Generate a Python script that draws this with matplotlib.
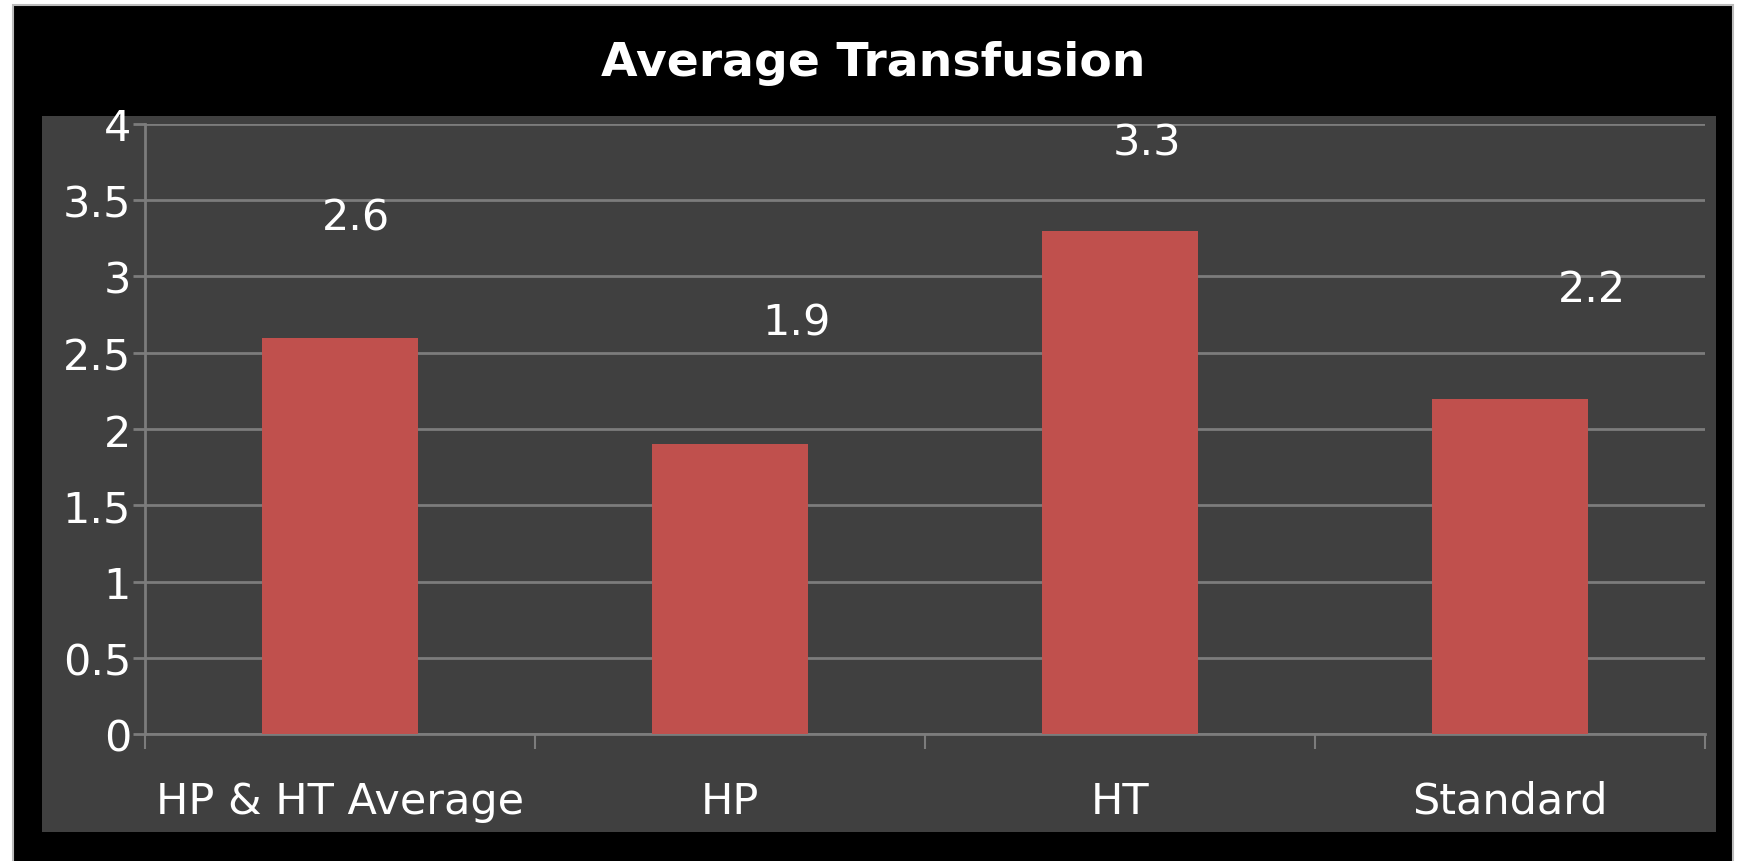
import matplotlib
matplotlib.use('Agg')
import matplotlib.pyplot as plt
from matplotlib.patches import Rectangle
import numpy as np

# chart data
categories = ['HP & HT Average', 'HP', 'HT', 'Standard']
transfusion = [2.6, 1.9, 3.3, 2.2]
valueLabels = ['2.6', '1.9', '3.3', '2.2']
yTicks = [0, 0.5, 1, 1.5, 2, 2.5, 3, 3.5, 4]
yTickLabels = ['0', '0.5', '1', '1.5', '2', '2.5', '3', '3.5', '4']

# styling
panelColor = '#404040'
barColor = '#c0504d'
gridColor = '#7c7c7c'
# where the value labels sit relative to the bar top (x in category units, y in data units)
labelDx = [0.04, 0.17, 0.07, 0.21]
labelDy = [0.79, 0.80, 0.58, 0.72]

plt.rcParams['font.family'] = ['DejaVu Sans']

fig = plt.figure(figsize=(17.47, 8.62), dpi=100)
fig.patch.set_facecolor('white')

# black outer frame and grey panel
fig.patches.append(Rectangle((0.0074, -0.01), 0.9846, 1.003, transform=fig.transFigure,
                             facecolor='black', edgecolor='#bbbbbb', linewidth=1.5, zorder=0))
fig.patches.append(Rectangle((0.024, 0.034), 0.958, 0.830, transform=fig.transFigure,
                             facecolor=panelColor, edgecolor='none', zorder=1))

ax = fig.add_axes([0.083, 0.1473, 0.893, 0.7077])
ax.set_zorder(2)
ax.patch.set_alpha(0)

x = np.arange(len(categories))
ax.bar(x, transfusion, width=0.4, color=barColor, zorder=3)

ax.set_xlim(-0.5, len(categories) - 0.5)
ax.set_ylim(0, 4)
ax.set_yticks(yTicks)
ax.set_yticklabels(yTickLabels)
ax.yaxis.grid(True, color=gridColor, linewidth=2, zorder=1)
ax.set_axisbelow(True)

ax.set_xticks(x)
ax.set_xticklabels(categories)
ax.set_xticks(np.arange(len(categories) + 1) - 0.5, minor=True)
ax.tick_params(axis='x', which='major', length=0, pad=33, labelsize=31, labelcolor='white')
ax.tick_params(axis='x', which='minor', length=11, width=1.5, color=gridColor)
ax.tick_params(axis='y', length=9, width=2, color=gridColor, pad=1, labelsize=31, labelcolor='white')

for side in ['top', 'right']:
    ax.spines[side].set_visible(False)
for side in ['left', 'bottom']:
    ax.spines[side].set_color(gridColor)
    ax.spines[side].set_linewidth(2)

for i, v in enumerate(transfusion):
    ax.text(i + labelDx[i], v + labelDy[i], valueLabels[i], ha='center', va='center',
            color='white', fontsize=31)

fig.text(0.5, 0.926, 'Average Transfusion', ha='center', va='center',
         color='white', fontsize=34, fontweight='bold')

fig.savefig('out.png', dpi=100, facecolor=fig.get_facecolor())
